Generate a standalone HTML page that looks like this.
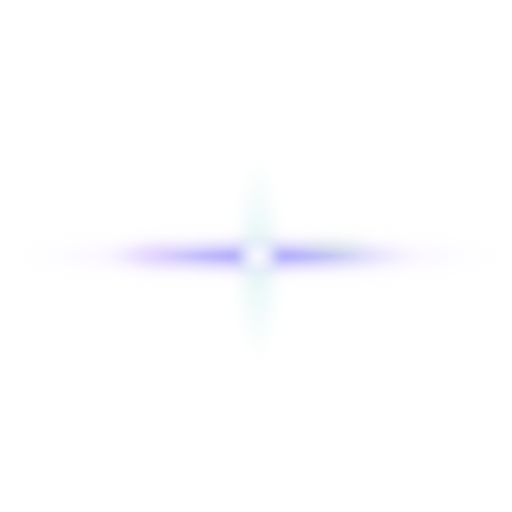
<!DOCTYPE html>
<html>
<head>
<meta charset="utf-8">
<style>
  html,body{margin:0;padding:0;background:#fff;}
  #flare{position:relative;width:512px;height:512px;overflow:hidden;background:#fff;}
  .l{position:absolute;border-radius:50%;}
</style>
</head>
<body>
<div id="flare">
  <div class="l"
       style="left:20px;top:232px;width:476px;height:48px;background:radial-gradient(ellipse at center, rgba(190,170,255,0.28) 0%, rgba(220,200,255,0.12) 50%, rgba(255,255,255,0) 75%);filter:blur(7px);"></div>
  <div class="l"
       style="left:105px;top:240px;width:310px;height:32px;background:radial-gradient(ellipse at center, rgba(130,120,245,0.55) 0%, rgba(150,140,250,0.3) 40%, rgba(200,190,255,0) 72%);filter:blur(5px);"></div>
  <div class="l"
       style="left:120px;top:238px;width:70px;height:34px;background:radial-gradient(ellipse at center, rgba(220,160,255,0.22) 0%, rgba(255,255,255,0) 70%);filter:blur(6px);"></div>
  <div class="l"
       style="left:290px;top:234px;width:90px;height:30px;background:radial-gradient(ellipse at center, rgba(190,240,180,0.28) 0%, rgba(255,255,255,0) 70%);filter:blur(6px);"></div>
  <div class="l"
       style="left:234px;top:160px;width:48px;height:200px;background:radial-gradient(ellipse at center, rgba(185,235,225,0.45) 0%, rgba(205,235,240,0.2) 45%, rgba(255,255,255,0) 72%);filter:blur(6px);"></div>
  <div class="l"
       style="left:160px;top:250px;width:200px;height:12px;background:radial-gradient(ellipse at center, rgba(160,160,250,0.6) 0%, rgba(150,150,250,0.25) 50%, rgba(255,255,255,0) 75%);filter:blur(2.5px);"></div>
  <div class="l"
       style="left:234px;top:236px;width:48px;height:40px;background:radial-gradient(ellipse at center, rgba(255,255,255,1) 0%, rgba(255,255,255,0.7) 30%, rgba(255,255,255,0) 70%);filter:blur(3px);"></div>
</div>
</body>
</html>
